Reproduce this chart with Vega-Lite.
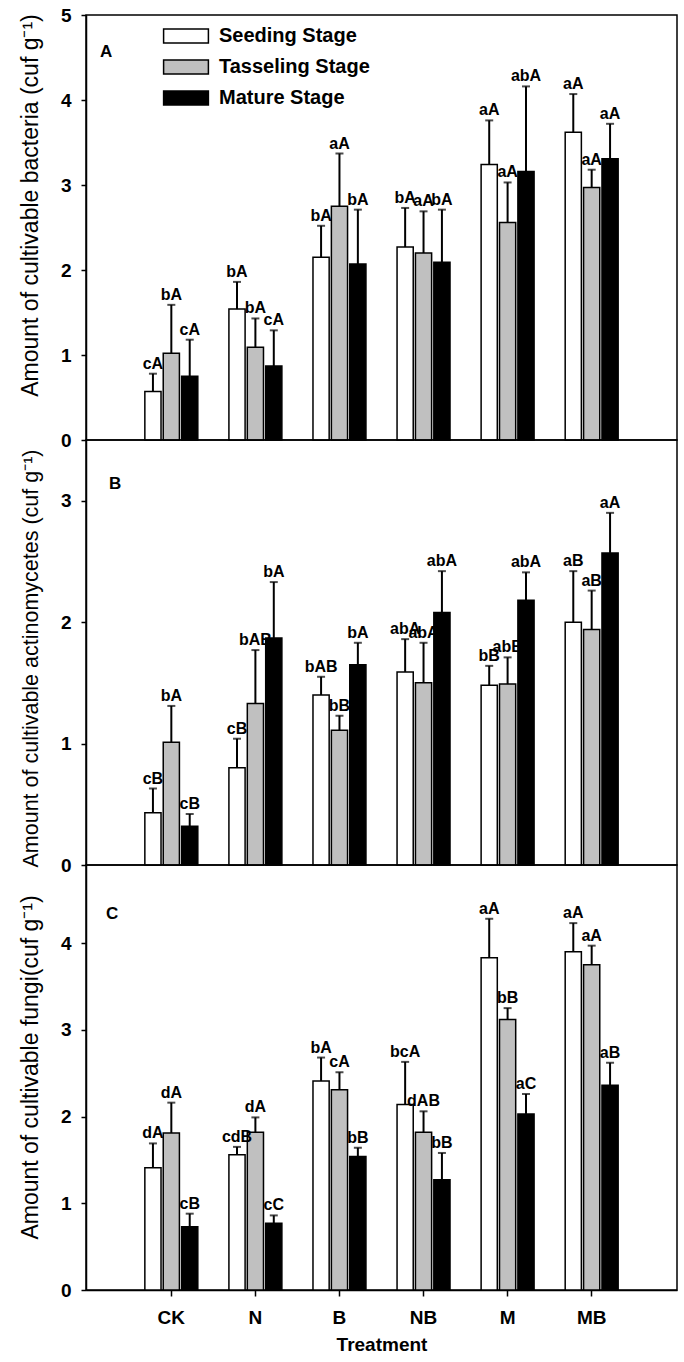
{
  "$schema": "https://vega.github.io/schema/vega-lite/v6.json",
  "background": "white",
  "padding": {"left": 18, "top": 5, "right": 2, "bottom": 2},
  "spacing": 0,
  "bounds": "flush",
  "config": {
    "view": {"stroke": "black", "strokeWidth": 1.5},
    "font": "Liberation Sans",
    "axis": {
      "domainColor": "black", "domainWidth": 1.5, "tickColor": "black", "tickWidth": 1.5,
      "tickSize": 5, "labelFont": "Liberation Sans", "labelFontWeight": "bold", "labelFontSize": 19,
      "labelColor": "black", "titleFont": "Liberation Sans", "titleFontSize": 19, "titleColor": "black",
      "grid": false
    },
    "axisY": {"labelPadding": 10, "titleFontWeight": "normal", "titlePadding": 18, "format": "d"},
    "axisX": {"labelPadding": 12, "titleFontWeight": "bold", "titlePadding": 8, "labelAngle": 0, "tickSize": 6},
    "title": {"font": "Liberation Sans", "fontSize": 17, "fontWeight": "bold", "color": "black", "anchor": "start", "frame": "group"}
  },
  "datasets": {
    "A": [
      {"treatment": "CK", "stage": "Seeding Stage", "value": 0.57, "upper": 0.78, "label": "cA"},
      {"treatment": "CK", "stage": "Tasseling Stage", "value": 1.02, "upper": 1.59, "label": "bA"},
      {"treatment": "CK", "stage": "Mature Stage", "value": 0.75, "upper": 1.18, "label": "cA"},
      {"treatment": "N", "stage": "Seeding Stage", "value": 1.54, "upper": 1.86, "label": "bA"},
      {"treatment": "N", "stage": "Tasseling Stage", "value": 1.09, "upper": 1.43, "label": "bA"},
      {"treatment": "N", "stage": "Mature Stage", "value": 0.87, "upper": 1.29, "label": "cA"},
      {"treatment": "B", "stage": "Seeding Stage", "value": 2.15, "upper": 2.52, "label": "bA"},
      {"treatment": "B", "stage": "Tasseling Stage", "value": 2.75, "upper": 3.37, "label": "aA"},
      {"treatment": "B", "stage": "Mature Stage", "value": 2.07, "upper": 2.71, "label": "bA"},
      {"treatment": "NB", "stage": "Seeding Stage", "value": 2.27, "upper": 2.73, "label": "bA"},
      {"treatment": "NB", "stage": "Tasseling Stage", "value": 2.2, "upper": 2.69, "label": "aA"},
      {"treatment": "NB", "stage": "Mature Stage", "value": 2.09, "upper": 2.71, "label": "bA"},
      {"treatment": "M", "stage": "Seeding Stage", "value": 3.24, "upper": 3.76, "label": "aA"},
      {"treatment": "M", "stage": "Tasseling Stage", "value": 2.56, "upper": 3.03, "label": "aA"},
      {"treatment": "M", "stage": "Mature Stage", "value": 3.16, "upper": 4.16, "label": "abA"},
      {"treatment": "MB", "stage": "Seeding Stage", "value": 3.62, "upper": 4.07, "label": "aA"},
      {"treatment": "MB", "stage": "Tasseling Stage", "value": 2.97, "upper": 3.18, "label": "aA"},
      {"treatment": "MB", "stage": "Mature Stage", "value": 3.31, "upper": 3.72, "label": "aA"}
    ],
    "B": [
      {"treatment": "CK", "stage": "Seeding Stage", "value": 0.43, "upper": 0.63, "label": "cB"},
      {"treatment": "CK", "stage": "Tasseling Stage", "value": 1.01, "upper": 1.31, "label": "bA"},
      {"treatment": "CK", "stage": "Mature Stage", "value": 0.32, "upper": 0.42, "label": "cB"},
      {"treatment": "N", "stage": "Seeding Stage", "value": 0.8, "upper": 1.04, "label": "cB"},
      {"treatment": "N", "stage": "Tasseling Stage", "value": 1.33, "upper": 1.77, "label": "bAB"},
      {"treatment": "N", "stage": "Mature Stage", "value": 1.87, "upper": 2.33, "label": "bA"},
      {"treatment": "B", "stage": "Seeding Stage", "value": 1.4, "upper": 1.55, "label": "bAB"},
      {"treatment": "B", "stage": "Tasseling Stage", "value": 1.11, "upper": 1.23, "label": "bB"},
      {"treatment": "B", "stage": "Mature Stage", "value": 1.65, "upper": 1.83, "label": "bA"},
      {"treatment": "NB", "stage": "Seeding Stage", "value": 1.59, "upper": 1.86, "label": "abA"},
      {"treatment": "NB", "stage": "Tasseling Stage", "value": 1.5, "upper": 1.83, "label": "abA"},
      {"treatment": "NB", "stage": "Mature Stage", "value": 2.08, "upper": 2.42, "label": "abA"},
      {"treatment": "M", "stage": "Seeding Stage", "value": 1.48, "upper": 1.64, "label": "bB"},
      {"treatment": "M", "stage": "Tasseling Stage", "value": 1.49, "upper": 1.71, "label": "abB"},
      {"treatment": "M", "stage": "Mature Stage", "value": 2.18, "upper": 2.41, "label": "abA"},
      {"treatment": "MB", "stage": "Seeding Stage", "value": 2.0, "upper": 2.42, "label": "aB"},
      {"treatment": "MB", "stage": "Tasseling Stage", "value": 1.94, "upper": 2.26, "label": "aB"},
      {"treatment": "MB", "stage": "Mature Stage", "value": 2.57, "upper": 2.9, "label": "aA"}
    ],
    "C": [
      {"treatment": "CK", "stage": "Seeding Stage", "value": 1.41, "upper": 1.69, "label": "dA"},
      {"treatment": "CK", "stage": "Tasseling Stage", "value": 1.81, "upper": 2.16, "label": "dA"},
      {"treatment": "CK", "stage": "Mature Stage", "value": 0.73, "upper": 0.88, "label": "cB"},
      {"treatment": "N", "stage": "Seeding Stage", "value": 1.56, "upper": 1.65, "label": "cdB"},
      {"treatment": "N", "stage": "Tasseling Stage", "value": 1.82, "upper": 1.99, "label": "dA"},
      {"treatment": "N", "stage": "Mature Stage", "value": 0.77, "upper": 0.86, "label": "cC"},
      {"treatment": "B", "stage": "Seeding Stage", "value": 2.41, "upper": 2.68, "label": "bA"},
      {"treatment": "B", "stage": "Tasseling Stage", "value": 2.31, "upper": 2.51, "label": "cA"},
      {"treatment": "B", "stage": "Mature Stage", "value": 1.54, "upper": 1.64, "label": "bB"},
      {"treatment": "NB", "stage": "Seeding Stage", "value": 2.14, "upper": 2.63, "label": "bcA"},
      {"treatment": "NB", "stage": "Tasseling Stage", "value": 1.82, "upper": 2.06, "label": "dAB"},
      {"treatment": "NB", "stage": "Mature Stage", "value": 1.27, "upper": 1.58, "label": "bB"},
      {"treatment": "M", "stage": "Seeding Stage", "value": 3.83, "upper": 4.28, "label": "aA"},
      {"treatment": "M", "stage": "Tasseling Stage", "value": 3.12, "upper": 3.25, "label": "bB"},
      {"treatment": "M", "stage": "Mature Stage", "value": 2.03, "upper": 2.26, "label": "aC"},
      {"treatment": "MB", "stage": "Seeding Stage", "value": 3.9, "upper": 4.23, "label": "aA"},
      {"treatment": "MB", "stage": "Tasseling Stage", "value": 3.75, "upper": 3.97, "label": "aA"},
      {"treatment": "MB", "stage": "Mature Stage", "value": 2.36, "upper": 2.62, "label": "aB"}
    ]
  },
  "resolve": {"legend": {"fill": "independent"}},
  "vconcat": [
    {
      "width": 591, "height": 425,
      "title": {"text": "A", "offset": -55, "dx": 14},
      "data": {"name": "A"},
      "encoding": {
        "x": {"field": "treatment", "type": "nominal", "sort": ["CK","N","B","NB","M","MB"],
              "scale": {"type": "band", "paddingInner": 0.37, "paddingOuter": 0.7}, "axis": null},
        "xOffset": {"field": "stage", "type": "nominal", "sort": ["Seeding Stage","Tasseling Stage","Mature Stage"],
                    "scale": {"paddingInner": 0.12, "paddingOuter": 0}}
      },
      "layer": [
        {"mark": {"type": "bar", "stroke": "black", "strokeWidth": 1.5},
         "encoding": {
           "y": {"field": "value", "type": "quantitative", "scale": {"domain": [0, 5], "nice": false},
                 "axis": {"values": [0,1,2,3,4,5], "title": "Amount of cultivable bacteria (cuf g⁻¹)", "titleFontSize": 23, "titleY": 190}},
           "fill": {"field": "stage", "type": "nominal", "sort": ["Seeding Stage","Tasseling Stage","Mature Stage"],
                    "scale": {"domain": ["Seeding Stage","Tasseling Stage","Mature Stage"], "range": ["white","#c0c0c0","black"]},
                    "legend": {"orient": "none", "legendX": 90, "legendY": 11, "title": null,
                               "symbolType": "M-3.2,-1H3.2V1H-3.2Z", "symbolSize": 196,
                               "symbolStrokeColor": "black", "symbolStrokeWidth": 1.5, "symbolOpacity": 1,
                               "labelOffset": 23, "labelFont": "Liberation Sans", "labelFontSize": 20,
                               "labelFontWeight": "bold", "labelColor": "black", "rowPadding": 11, "labelLimit": 300}}
         }},
        {"mark": {"type": "rule", "color": "black", "strokeWidth": 2},
         "encoding": {"y": {"field": "value", "type": "quantitative"}, "y2": {"field": "upper"}}},
        {"mark": {"type": "tick", "color": "black", "size": 8, "thickness": 2},
         "encoding": {"y": {"field": "upper", "type": "quantitative"}}},
        {"mark": {"type": "text", "font": "Liberation Sans", "fontSize": 16, "fontWeight": "bold", "color": "black", "dy": -5, "baseline": "alphabetic"},
         "encoding": {"y": {"field": "upper", "type": "quantitative"}, "text": {"field": "label"}}}
      ]
    },
    {
      "width": 591, "height": 425,
      "title": {"text": "B", "offset": -53, "dx": 23},
      "data": {"name": "B"},
      "encoding": {
        "x": {"field": "treatment", "type": "nominal", "sort": ["CK","N","B","NB","M","MB"],
              "scale": {"type": "band", "paddingInner": 0.37, "paddingOuter": 0.7}, "axis": null},
        "xOffset": {"field": "stage", "type": "nominal", "sort": ["Seeding Stage","Tasseling Stage","Mature Stage"],
                    "scale": {"paddingInner": 0.12, "paddingOuter": 0}}
      },
      "layer": [
        {"mark": {"type": "bar", "stroke": "black", "strokeWidth": 1.5},
         "encoding": {
           "y": {"field": "value", "type": "quantitative", "scale": {"domain": [0, 3.5], "nice": false},
                 "axis": {"values": [0,1,2,3], "title": "Amount of cultivable actinomycetes (cuf g⁻¹)", "titleFontSize": 21.5, "titleY": 218}},
           "fill": {"field": "stage", "type": "nominal", "sort": ["Seeding Stage","Tasseling Stage","Mature Stage"],
                    "scale": {"domain": ["Seeding Stage","Tasseling Stage","Mature Stage"], "range": ["white","#c0c0c0","black"]},
                    "legend": null}
         }},
        {"mark": {"type": "rule", "color": "black", "strokeWidth": 2},
         "encoding": {"y": {"field": "value", "type": "quantitative"}, "y2": {"field": "upper"}}},
        {"mark": {"type": "tick", "color": "black", "size": 8, "thickness": 2},
         "encoding": {"y": {"field": "upper", "type": "quantitative"}}},
        {"mark": {"type": "text", "font": "Liberation Sans", "fontSize": 16, "fontWeight": "bold", "color": "black", "dy": -5, "baseline": "alphabetic"},
         "encoding": {"y": {"field": "upper", "type": "quantitative"}, "text": {"field": "label"}}}
      ]
    },
    {
      "width": 591, "height": 425,
      "title": {"text": "C", "offset": -58, "dx": 20},
      "data": {"name": "C"},
      "encoding": {
        "x": {"field": "treatment", "type": "nominal", "sort": ["CK","N","B","NB","M","MB"],
              "scale": {"type": "band", "paddingInner": 0.37, "paddingOuter": 0.7},
              "axis": {"title": "Treatment", "ticks": true, "domain": true}},
        "xOffset": {"field": "stage", "type": "nominal", "sort": ["Seeding Stage","Tasseling Stage","Mature Stage"],
                    "scale": {"paddingInner": 0.12, "paddingOuter": 0}}
      },
      "layer": [
        {"mark": {"type": "bar", "stroke": "black", "strokeWidth": 1.5},
         "encoding": {
           "y": {"field": "value", "type": "quantitative", "scale": {"domain": [0, 4.9], "nice": false},
                 "axis": {"values": [0,1,2,3,4], "title": "Amount of cultivable fungi(cuf g⁻¹)", "titleFontSize": 23, "titleY": 202}},
           "fill": {"field": "stage", "type": "nominal", "sort": ["Seeding Stage","Tasseling Stage","Mature Stage"],
                    "scale": {"domain": ["Seeding Stage","Tasseling Stage","Mature Stage"], "range": ["white","#c0c0c0","black"]},
                    "legend": null}
         }},
        {"mark": {"type": "rule", "color": "black", "strokeWidth": 2},
         "encoding": {"y": {"field": "value", "type": "quantitative"}, "y2": {"field": "upper"}}},
        {"mark": {"type": "tick", "color": "black", "size": 8, "thickness": 2},
         "encoding": {"y": {"field": "upper", "type": "quantitative"}}},
        {"mark": {"type": "text", "font": "Liberation Sans", "fontSize": 16, "fontWeight": "bold", "color": "black", "dy": -5, "baseline": "alphabetic"},
         "encoding": {"y": {"field": "upper", "type": "quantitative"}, "text": {"field": "label"}}}
      ]
    }
  ]
}
